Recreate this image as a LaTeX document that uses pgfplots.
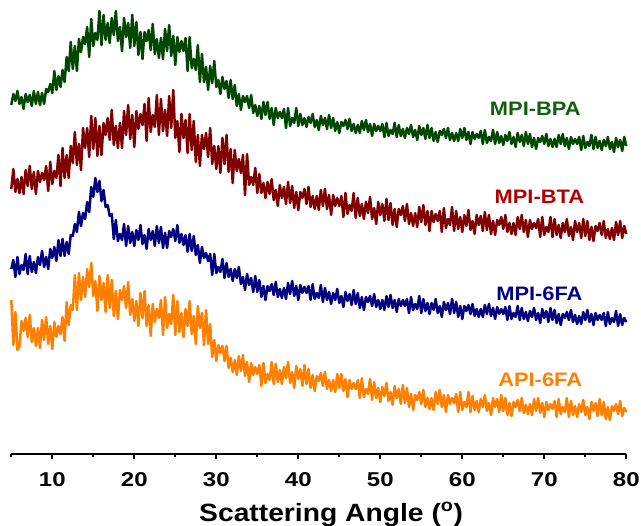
\documentclass[border=0pt]{standalone}
\usepackage{fontspec}
\setmainfont{Liberation Sans}
\usepackage{graphicx}
\usepackage{pgfplots}
\usepackage{pgfplotstable}
\pgfplotsset{compat=1.18}
\definecolor{cG}{RGB}{0,72,0}
\definecolor{cR}{RGB}{128,0,0}
\definecolor{cB}{RGB}{0,0,128}
\definecolor{cO}{RGB}{255,128,0}
\definecolor{tG}{RGB}{16,96,16}
\definecolor{tR}{RGB}{176,0,0}
\definecolor{tB}{RGB}{0,0,140}
\definecolor{tO}{RGB}{255,128,0}
% values are pixel rows of the trace (y = 454 - row)
\pgfplotstableread[row sep=\\]{
x r\\
5 105\\5.25 94\\5.5 101\\5.75 91\\6 104\\6.25 97\\6.5 109\\6.75 94\\
7 102\\7.25 95\\7.5 106\\7.75 91\\8 104\\8.25 92\\8.5 105\\8.75 93\\
9 104\\9.25 89\\9.5 92\\9.75 84\\10 93\\10.25 71\\10.5 90\\10.75 76\\
11 87\\11.25 70\\11.5 82\\11.75 57\\12 71\\12.25 42\\12.5 69\\12.75 46\\
13 71\\13.25 39\\13.5 52\\13.75 37\\14 44\\14.25 27\\14.5 57\\14.75 19\\
15 46\\15.25 33\\15.5 40\\15.75 11\\16 45\\16.25 15\\16.5 40\\16.75 23\\
17 43\\17.25 18\\17.5 35\\17.75 11\\18 41\\18.25 27\\18.5 51\\18.75 18\\
19 37\\19.25 23\\19.5 48\\19.75 15\\20 46\\20.25 22\\20.5 55\\20.75 32\\
21 59\\21.25 32\\21.5 41\\21.75 30\\22 50\\22.25 24\\22.5 54\\22.75 39\\
23 58\\23.25 38\\23.5 59\\23.75 29\\24 51\\24.25 25\\24.5 56\\24.75 36\\
25 65\\25.25 37\\25.5 52\\25.75 41\\26 51\\26.25 38\\26.5 71\\26.75 37\\
27 68\\27.25 59\\27.5 70\\27.75 45\\28 82\\28.25 54\\28.5 82\\28.75 67\\
29 90\\29.25 66\\29.5 83\\29.75 61\\30 87\\30.25 80\\30.5 94\\30.75 77\\
31 89\\31.25 81\\31.5 98\\31.75 80\\32 99\\32.25 85\\32.5 106\\32.75 94\\
33 110\\33.25 96\\33.5 102\\33.75 96\\34 108\\34.25 95\\34.5 113\\34.75 105\\
35 116\\35.25 106\\35.5 119\\35.75 102\\36 115\\36.25 102\\36.5 119\\36.75 108\\
37 125\\37.25 108\\37.5 118\\37.75 112\\38 118\\38.25 109\\38.5 128\\38.75 108\\
39 126\\39.25 118\\39.5 123\\39.75 108\\40 126\\40.25 114\\40.5 125\\40.75 118\\
41 127\\41.25 117\\41.5 123\\41.75 114\\42 127\\42.25 120\\42.5 130\\42.75 116\\
43 125\\43.25 118\\43.5 129\\43.75 115\\44 128\\44.25 118\\44.5 131\\44.75 122\\
45 133\\45.25 122\\45.5 126\\45.75 120\\46 129\\46.25 119\\46.5 131\\46.75 124\\
47 133\\47.25 125\\47.5 133\\47.75 121\\48 130\\48.25 120\\48.5 132\\48.75 124\\
49 136\\49.25 124\\49.5 131\\49.75 126\\50 131\\50.25 124\\50.5 137\\50.75 123\\
51 136\\51.25 130\\51.5 134\\51.75 123\\52 137\\52.25 125\\52.5 136\\52.75 129\\
53 138\\53.25 128\\53.5 134\\53.75 125\\54 137\\54.25 130\\54.5 140\\54.75 126\\
55 135\\55.25 128\\55.5 139\\55.75 125\\56 138\\56.25 128\\56.5 141\\56.75 132\\
57 142\\57.25 131\\57.5 135\\57.75 129\\58 138\\58.25 128\\58.5 140\\58.75 133\\
59 141\\59.25 133\\59.5 141\\59.75 129\\60 138\\60.25 128\\60.5 140\\60.75 132\\
61 144\\61.25 132\\61.5 139\\61.75 134\\62 138\\62.25 131\\62.5 144\\62.75 130\\
63 143\\63.25 137\\63.5 141\\63.75 130\\64 144\\64.25 132\\64.5 143\\64.75 136\\
65 145\\65.25 135\\65.5 141\\65.75 132\\66 144\\66.25 137\\66.5 147\\66.75 133\\
67 142\\67.25 135\\67.5 146\\67.75 132\\68 144\\68.25 134\\68.5 147\\68.75 138\\
69 149\\69.25 138\\69.5 142\\69.75 136\\70 144\\70.25 134\\70.5 146\\70.75 139\\
71 147\\71.25 139\\71.5 147\\71.75 135\\72 144\\72.25 134\\72.5 146\\72.75 138\\
73 149\\73.25 137\\73.5 144\\73.75 139\\74 144\\74.25 137\\74.5 150\\74.75 136\\
75 148\\75.25 142\\75.5 146\\75.75 135\\76 149\\76.25 137\\76.5 148\\76.75 141\\
77 150\\77.25 140\\77.5 146\\77.75 137\\78 149\\78.25 142\\78.5 152\\78.75 138\\
79 147\\79.25 140\\79.5 151\\79.75 137\\80 146\\
}\tblBPA
\pgfplotstableread[row sep=\\]{
x r\\
5 189\\5.25 169\\5.5 192\\5.75 179\\6 193\\6.25 177\\6.5 194\\6.75 170\\
7 186\\7.25 166\\7.5 189\\7.75 172\\8 194\\8.25 171\\8.5 182\\8.75 173\\
9 180\\9.25 166\\9.5 191\\9.75 162\\10 184\\10.25 171\\10.5 178\\10.75 155\\
11 186\\11.25 148\\11.5 178\\11.75 155\\12 178\\12.25 146\\12.5 163\\12.75 132\\
13 165\\13.25 144\\13.5 170\\13.75 128\\14 148\\14.25 128\\14.5 157\\14.75 116\\
15 149\\15.25 118\\15.5 156\\15.75 126\\16 155\\16.25 123\\16.5 135\\16.75 118\\
17 140\\17.25 110\\17.5 145\\17.75 126\\18 148\\18.25 123\\18.5 148\\18.75 111\\
19 135\\19.25 105\\19.5 139\\19.75 115\\20 147\\20.25 111\\20.5 129\\20.75 114\\
21 125\\21.25 104\\21.5 141\\21.75 98\\22 132\\22.25 115\\22.5 127\\22.75 95\\
23 135\\23.25 99\\23.5 131\\23.75 110\\24 136\\24.25 96\\24.5 128\\24.75 90\\
25 138\\25.25 121\\25.5 152\\25.75 114\\26 138\\26.25 120\\26.5 153\\26.75 114\\
27 150\\27.25 121\\27.5 162\\27.75 135\\28 166\\28.25 135\\28.5 149\\28.75 133\\
29 157\\29.25 128\\29.5 164\\29.75 146\\30 169\\30.25 146\\30.5 173\\30.75 138\\
31 164\\31.25 135\\31.5 172\\31.75 149\\32 183\\32.25 150\\32.5 171\\32.75 159\\
33 173\\33.25 155\\33.5 195\\33.75 154\\34 185\\34.25 177\\34.5 185\\34.75 168\\
35 193\\35.25 174\\35.5 193\\35.75 183\\36 198\\36.25 182\\36.5 194\\36.75 179\\
37 200\\37.25 190\\37.5 206\\37.75 185\\38 198\\38.25 187\\38.5 204\\38.75 182\\
39 203\\39.25 186\\39.5 208\\39.75 192\\40 210\\40.25 192\\40.5 198\\40.75 189\\
41 204\\41.25 187\\41.5 207\\41.75 196\\42 209\\42.25 196\\42.5 210\\42.75 190\\
43 206\\43.25 189\\43.5 209\\43.75 195\\44 215\\44.25 195\\44.5 206\\44.75 198\\
45 206\\45.25 196\\45.5 217\\45.75 193\\46 214\\46.25 205\\46.5 211\\46.75 193\\
47 218\\47.25 198\\47.5 216\\47.75 204\\48 219\\48.25 202\\48.5 213\\48.75 197\\
49 219\\49.25 208\\49.5 224\\49.75 202\\50 215\\50.25 204\\50.5 221\\50.75 199\\
51 220\\51.25 203\\51.5 225\\51.75 209\\52 227\\52.25 209\\52.5 215\\52.75 206\\
53 221\\53.25 204\\53.5 224\\53.75 213\\54 226\\54.25 213\\54.5 227\\54.75 207\\
55 222\\55.25 205\\55.5 225\\55.75 211\\56 231\\56.25 211\\56.5 222\\56.75 214\\
57 221\\57.25 211\\57.5 232\\57.75 208\\58 228\\58.25 219\\58.5 225\\58.75 207\\
59 231\\59.25 211\\59.5 229\\59.75 217\\60 232\\60.25 215\\60.5 226\\60.75 210\\
61 230\\61.25 221\\61.5 234\\61.75 215\\62 225\\62.25 216\\62.5 231\\62.75 212\\
63 230\\63.25 215\\63.5 234\\63.75 221\\64 235\\64.25 220\\64.5 225\\64.75 217\\
65 229\\65.25 215\\65.5 232\\65.75 223\\66 234\\66.25 223\\66.5 235\\66.75 217\\
67 229\\67.25 215\\67.5 232\\67.75 220\\68 237\\68.25 220\\68.5 229\\68.75 223\\
69 228\\69.25 219\\69.5 237\\69.75 217\\70 235\\70.25 227\\70.5 232\\70.75 217\\
71 237\\71.25 219\\71.5 235\\71.75 225\\72 238\\72.25 223\\72.5 232\\72.75 219\\
73 236\\73.25 227\\73.5 240\\73.75 221\\74 232\\74.25 223\\74.5 238\\74.75 219\\
75 236\\75.25 221\\75.5 240\\75.75 227\\76 241\\76.25 226\\76.5 231\\76.75 223\\
77 235\\77.25 221\\77.5 238\\77.75 229\\78 239\\78.25 228\\78.5 240\\78.75 222\\
79 235\\79.25 221\\79.5 238\\79.75 226\\80 234\\
}\tblBTA
\pgfplotstableread[row sep=\\]{
x r\\
5 269\\5.25 260\\5.5 277\\5.75 257\\6 274\\6.25 265\\6.5 270\\6.75 254\\
7 274\\7.25 256\\7.5 272\\7.75 262\\8 273\\8.25 257\\8.5 265\\8.75 251\\
9 267\\9.25 257\\9.5 269\\9.75 249\\10 258\\10.25 247\\10.5 261\\10.75 240\\
11 256\\11.25 239\\11.5 256\\11.75 242\\12 254\\12.25 235\\12.5 236\\12.75 224\\
13 232\\13.25 212\\13.5 226\\13.75 213\\14 219\\14.25 202\\14.5 212\\14.75 187\\
15 197\\15.25 178\\15.5 192\\15.75 181\\16 201\\16.25 190\\16.5 207\\16.75 205\\
17 216\\17.25 214\\17.5 239\\17.75 220\\18 241\\18.25 234\\18.5 240\\18.75 224\\
19 246\\19.25 226\\19.5 243\\19.75 232\\20 246\\20.25 230\\20.5 240\\20.75 225\\
21 244\\21.25 235\\21.5 249\\21.75 229\\22 240\\22.25 231\\22.5 246\\22.75 226\\
23 243\\23.25 227\\23.5 248\\23.75 233\\24 248\\24.25 231\\24.5 237\\24.75 229\\
25 241\\25.25 225\\25.5 243\\25.75 234\\26 245\\26.25 235\\26.5 252\\26.75 234\\
27 251\\27.25 236\\27.5 255\\27.75 245\\28 263\\28.25 247\\28.5 258\\28.75 253\\
29 261\\29.25 254\\29.5 275\\29.75 254\\30 273\\30.25 267\\30.5 272\\30.75 259\\
31 278\\31.25 263\\31.5 277\\31.75 269\\32 281\\32.25 269\\32.5 278\\32.75 267\\
33 284\\33.25 277\\33.5 290\\33.75 274\\34 285\\34.25 278\\34.5 292\\34.75 276\\
35 292\\35.25 280\\35.5 297\\35.75 286\\36 300\\36.25 286\\36.5 291\\36.75 284\\
37 295\\37.25 282\\37.5 297\\37.75 289\\38 298\\38.25 288\\38.5 299\\38.75 283\\
39 294\\39.25 281\\39.5 296\\39.75 286\\40 300\\40.25 285\\40.5 293\\40.75 287\\
41 293\\41.25 286\\41.5 300\\41.75 284\\42 299\\42.25 293\\42.5 298\\42.75 285\\
43 302\\43.25 288\\43.5 300\\43.75 292\\44 304\\44.25 293\\44.5 300\\44.75 289\\
45 303\\45.25 296\\45.5 307\\45.75 292\\46 301\\46.25 294\\46.5 305\\46.75 290\\
47 304\\47.25 293\\47.5 308\\47.75 297\\48 310\\48.25 297\\48.5 302\\48.75 296\\
49 306\\49.25 294\\49.5 307\\49.75 300\\50 309\\50.25 300\\50.5 310\\50.75 296\\
51 307\\51.25 295\\51.5 308\\51.75 300\\52 312\\52.25 299\\52.5 306\\52.75 300\\
53 306\\53.25 299\\53.5 313\\53.75 297\\54 310\\54.25 304\\54.5 309\\54.75 296\\
55 313\\55.25 299\\55.5 311\\55.75 303\\56 314\\56.25 303\\56.5 310\\56.75 299\\
57 313\\57.25 306\\57.5 317\\57.75 302\\58 310\\58.25 303\\58.5 314\\58.75 299\\
59 313\\59.25 302\\59.5 317\\59.75 306\\60 319\\60.25 306\\60.5 311\\60.75 305\\
61 314\\61.25 304\\61.5 316\\61.75 309\\62 317\\62.25 309\\62.5 317\\62.75 305\\
63 314\\63.25 304\\63.5 316\\63.75 308\\64 319\\64.25 307\\64.5 314\\64.75 309\\
65 314\\65.25 307\\65.5 320\\65.75 306\\66 319\\66.25 313\\66.5 317\\66.75 306\\
67 320\\67.25 308\\67.5 319\\67.75 312\\68 321\\68.25 311\\68.5 317\\68.75 308\\
69 320\\69.25 313\\69.5 323\\69.75 309\\70 318\\70.25 311\\70.5 322\\70.75 308\\
71 320\\71.25 310\\71.5 323\\71.75 314\\72 325\\72.25 314\\72.5 318\\72.75 312\\
73 320\\73.25 310\\73.5 322\\73.75 315\\74 324\\74.25 316\\74.5 324\\74.75 312\\
75 320\\75.25 310\\75.5 322\\75.75 314\\76 325\\76.25 313\\76.5 320\\76.75 315\\
77 320\\77.25 313\\77.5 326\\77.75 312\\78 324\\78.25 318\\78.5 322\\78.75 311\\
79 326\\79.25 314\\79.5 325\\79.75 318\\80 322\\
}\tblMSFA
\pgfplotstableread[row sep=\\]{
x r\\
5 300\\5.25 345\\5.5 312\\5.75 350\\6 346\\6.25 321\\6.5 331\\6.75 318\\
7 337\\7.25 315\\7.5 342\\7.75 328\\8 346\\8.25 328\\8.5 348\\8.75 320\\
9 340\\9.25 317\\9.5 344\\9.75 326\\10 349\\10.25 322\\10.5 337\\10.75 326\\
11 334\\11.25 317\\11.5 341\\11.75 302\\12 325\\12.25 305\\12.5 310\\12.75 275\\
13 310\\13.25 273\\13.5 300\\13.75 277\\14 297\\14.25 269\\14.5 287\\14.75 263\\
15 296\\15.25 281\\15.5 311\\15.75 276\\16 300\\16.25 283\\16.5 312\\16.75 275\\
17 308\\17.25 280\\17.5 316\\17.75 291\\18 319\\18.25 290\\18.5 300\\18.75 286\\
19 308\\19.25 282\\19.5 315\\19.75 299\\20 321\\20.25 301\\20.5 326\\20.75 293\\
21 318\\21.25 291\\21.5 326\\21.75 305\\22 336\\22.25 304\\22.5 322\\22.75 309\\
23 318\\23.25 300\\23.5 335\\23.75 297\\24 328\\24.25 314\\24.5 324\\24.75 295\\
25 335\\25.25 301\\25.5 332\\25.75 313\\26 337\\26.25 309\\26.5 326\\26.75 301\\
27 334\\27.25 316\\27.5 344\\27.75 306\\28 328\\28.25 313\\28.5 345\\28.75 310\\
29 344\\29.25 324\\29.5 357\\29.75 340\\30 361\\30.25 345\\30.5 353\\30.75 346\\
31 361\\31.25 346\\31.5 368\\31.75 358\\32 372\\32.25 360\\32.5 375\\32.75 356\\
33 371\\33.25 355\\33.5 376\\33.75 362\\34 382\\34.25 363\\34.5 375\\34.75 367\\
35 374\\35.25 365\\35.5 386\\35.75 363\\36 383\\36.25 374\\36.5 380\\36.75 362\\
37 384\\37.25 364\\37.5 382\\37.75 370\\38 384\\38.25 367\\38.5 378\\38.75 362\\
39 383\\39.25 372\\39.5 388\\39.75 366\\40 379\\40.25 369\\40.5 386\\40.75 365\\
41 384\\41.25 369\\41.5 388\\41.75 375\\42 391\\42.25 376\\42.5 381\\42.75 373\\
43 386\\43.25 372\\43.5 389\\43.75 380\\44 391\\44.25 380\\44.5 392\\44.75 374\\
45 388\\45.25 374\\45.5 391\\45.75 379\\46 397\\46.25 380\\46.5 389\\46.75 383\\
47 389\\47.25 380\\47.5 398\\47.75 378\\48 397\\48.25 389\\48.5 394\\48.75 379\\
49 400\\49.25 382\\49.5 398\\49.75 388\\50 402\\50.25 387\\50.5 396\\50.75 383\\
51 401\\51.25 392\\51.5 405\\51.75 386\\52 398\\52.25 389\\52.5 404\\52.75 385\\
53 403\\53.25 388\\53.5 407\\53.75 394\\54 410\\54.25 395\\54.5 400\\54.75 392\\
55 404\\55.25 390\\55.5 407\\55.75 398\\56 409\\56.25 398\\56.5 410\\56.75 392\\
57 404\\57.25 390\\57.5 407\\57.75 395\\58 412\\58.25 395\\58.5 404\\58.75 398\\
59 403\\59.25 394\\59.5 412\\59.75 392\\60 410\\60.25 402\\60.5 407\\60.75 392\\
61 412\\61.25 396\\61.5 410\\61.75 401\\62 412\\62.25 399\\62.5 407\\62.75 395\\
63 411\\63.25 403\\63.5 415\\63.75 398\\64 407\\64.25 399\\64.5 412\\64.75 395\\
65 411\\65.25 398\\65.5 415\\65.75 403\\66 416\\66.25 402\\66.5 407\\66.75 400\\
67 411\\67.25 398\\67.5 413\\67.75 405\\68 414\\68.25 404\\68.5 415\\68.75 399\\
69 411\\69.25 398\\69.5 413\\69.75 403\\70 417\\70.25 402\\70.5 410\\70.75 404\\
71 409\\71.25 401\\71.5 417\\71.75 399\\72 414\\72.25 407\\72.5 412\\72.75 398\\
73 417\\73.25 401\\73.5 415\\73.75 406\\74 417\\74.25 404\\74.5 412\\74.75 400\\
75 415\\75.25 407\\75.5 419\\75.75 402\\76 411\\76.25 403\\76.5 416\\76.75 399\\
77 415\\77.25 402\\77.5 419\\77.75 407\\78 420\\78.25 406\\78.5 411\\78.75 404\\
79 414\\79.25 401\\79.5 416\\79.75 408\\80 412\\
}\tblASFA
\begin{document}
\begin{tikzpicture}
\begin{axis}[
  name=ax,
  scale only axis, width=615pt, height=454pt,
  xmin=5, xmax=80, ymin=0, ymax=454,
  axis x line*=bottom, axis y line=none,
  ytick=\empty,
  xtick={10,20,...,80}, minor xtick={5,15,...,75},
  tick align=outside,
  major tick length=5pt, minor tick length=3pt,
  axis line style={line width=2pt, black},
  every tick/.style={line width=2pt, black},
  /pgf/number format/assume math mode=true,
  xticklabel={\scalebox{1.2}[1]{\pgfmathprintnumber{\tick}}},
  xticklabel style={font=\fontsize{20}{20}\selectfont\bfseries, anchor=base, yshift=-27pt},
  xlabel={\scalebox{1.13}[1]{Scattering Angle (\textsuperscript{o})}},
  xlabel style={font=\fontsize{25}{25}\selectfont\bfseries, at={(axis description cs:0.52,0)}, anchor=base, yshift=-67pt},
  every axis plot/.append style={line width=2.5pt, line join=round},
  clip=false,
]
\addplot[cG] table[x=x, y expr=454-\thisrow{r}] {\tblBPA};
\addplot[cR] table[x=x, y expr=454-\thisrow{r}] {\tblBTA};
\addplot[cB] table[x=x, y expr=454-\thisrow{r}] {\tblMSFA};
\addplot[cO] table[x=x, y expr=454-\thisrow{r}] {\tblASFA};
\node[font=\fontsize{19.5}{20}\selectfont\bfseries, text=tG] at (axis cs:68.9,345) {\scalebox{1.12}[1]{MPI-BPA}};
\node[font=\fontsize{19.5}{20}\selectfont\bfseries, text=tR] at (axis cs:69.4,257) {\scalebox{1.12}[1]{MPI-BTA}};
\node[font=\fontsize{19.5}{20}\selectfont\bfseries, text=tB] at (axis cs:69.4,160) {\scalebox{1.12}[1]{MPI-6FA}};
\node[font=\fontsize{19.5}{20}\selectfont\bfseries, text=tO] at (axis cs:69.5,74) {\scalebox{1.12}[1]{API-6FA}};
\end{axis}
\pgfresetboundingbox
\path[use as bounding box] ([xshift=-11.3pt,yshift=-72pt]ax.south west) rectangle ([xshift=14.7pt]ax.north east);
\end{tikzpicture}
\end{document}
